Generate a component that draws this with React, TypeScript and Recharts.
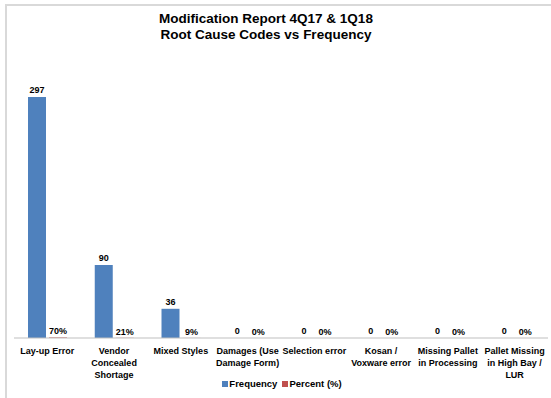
import React from 'react';
import { BarChart, Bar, XAxis, YAxis, LabelList, Legend } from 'recharts';

// category labels, already broken into lines as in the source chart
const categoryLines: string[][] = [
  ['Lay-up Error'],
  ['Vendor', 'Concealed', 'Shortage'],
  ['Mixed Styles'],
  ['Damages (Use', 'Damage Form)'],
  ['Selection error'],
  ['Kosan /', 'Voxware error'],
  ['Missing Pallet', 'in Processing'],
  ['Pallet Missing', 'in High Bay /', 'LUR'],
];
const categories = categoryLines.map((l) => l.join(' '));
const frequency = [297, 90, 36, 0, 0, 0, 0, 0];
const percent = [0.70, 0.21, 0.09, 0, 0, 0, 0, 0];

const data = categories.map((c, i) => ({ cause: c, frequency: frequency[i], percent: percent[i] }));

const FONT = '"Liberation Sans", Arial, sans-serif';
const BLUE = '#4F81BD';
const RED = '#C0504D';

const CategoryTick = (props: any) => {
  const { x, y, payload } = props;
  const lines = categoryLines[payload.index] || [payload.value];
  return (
    <text x={x} y={y} textAnchor="middle" fontFamily={FONT} fontSize={9} fontWeight="bold" fill="#000">
      {lines.map((ln, i) => (
        <tspan key={i} x={x} dy={i === 0 ? 8 : 12}>{ln}</tspan>
      ))}
    </text>
  );
};

const LegendContent = (props: any) => {
  const items = props.payload || [];
  return (
    <div style={{ display: 'flex', justifyContent: 'center', gap: 5, fontFamily: FONT, fontSize: 9.5, fontWeight: 'bold', color: '#000', paddingLeft: 2 }}>
      {items.map((it: any) => (
        <span key={it.value} style={{ display: 'flex', alignItems: 'center' }}>
          <span style={{ width: 6, height: 6, background: it.color, display: 'inline-block', marginRight: 1 }} />
          {it.value}
        </span>
      ))}
    </div>
  );
};

export default function App() {
  return (
    <div style={{ position: 'fixed', left: 0, top: 0, width: 551, height: 398, background: '#fff', overflow: 'hidden' }}>
      <div style={{ position: 'absolute', left: 5, top: 4, width: 546, height: 394, borderTop: '2px solid #d9d9d9', borderLeft: '2px solid #d9d9d9' }} />
      <div style={{ position: 'absolute', left: 0, width: 532, top: 11, textAlign: 'center', fontFamily: FONT, fontSize: 13.5, fontWeight: 'bold', lineHeight: '16px', color: '#000' }}>
        Modification Report 4Q17 &amp; 1Q18<br />Root Cause Codes vs Frequency
      </div>
      <div style={{ position: 'absolute', left: 0, top: 0 }}>
        <BarChart width={551} height={398} data={data} margin={{ top: 54, right: 3, left: 14, bottom: 0 }} barSize={18} barGap={3}>
          <XAxis dataKey="cause" height={46} tickLine={false} stroke="#bfbfbf" tick={<CategoryTick />} interval={0} />
          <YAxis hide domain={[0, 350]} />
          <Legend verticalAlign="bottom" height={14} wrapperStyle={{ top: 378 }} content={<LegendContent />} />
          <Bar dataKey="frequency" name="Frequency" fill={BLUE} minPointSize={0.01} isAnimationActive={false}>
            <LabelList dataKey="frequency" position="top" offset={4} fontFamily={FONT} fontSize={9} fontWeight="bold" fill="#000" />
          </Bar>
          <Bar dataKey="percent" name="Percent (%)" fill={RED} minPointSize={0.01} isAnimationActive={false}>
            <LabelList dataKey="percent" position="top" offset={3} fontFamily={FONT} fontSize={9} fontWeight="bold" fill="#000"
              formatter={(v: any) => `${Math.round(Number(v) * 100)}%`} />
          </Bar>
        </BarChart>
      </div>
    </div>
  );
}
